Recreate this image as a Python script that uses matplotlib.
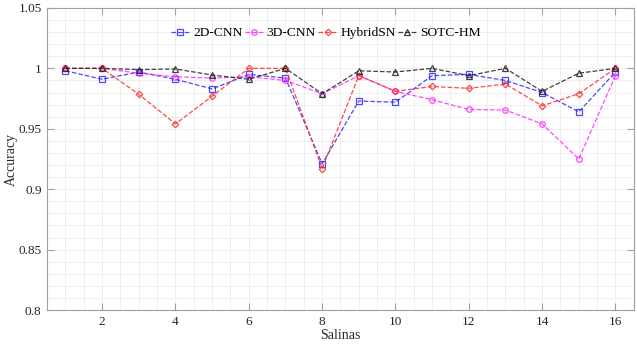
import matplotlib
matplotlib.use("Agg")
import matplotlib.pyplot as plt
import numpy as np

plt.rcParams['font.family'] = ['Liberation Serif', 'DejaVu Serif']

scenes = np.arange(1, 17)
cnn2d = [0.998, 0.991, 0.997, 0.991, 0.983, 0.995, 0.992, 0.921,
         0.973, 0.972, 0.994, 0.995, 0.990, 0.980, 0.964, 0.997]
cnn3d = [1.000, 1.000, 0.996, 0.993, 0.992, 0.993, 0.990, 0.979,
         0.994, 0.981, 0.974, 0.966, 0.9655, 0.954, 0.925, 0.994]
hybrid = [1.000, 1.000, 0.9785, 0.954, 0.977, 1.000, 1.000, 0.917,
          0.994, 0.981, 0.985, 0.9835, 0.987, 0.969, 0.979, 1.000]
sotc = [1.000, 1.000, 0.999, 0.9995, 0.9945, 0.991, 1.000, 0.979,
        0.998, 0.997, 1.000, 0.994, 1.000, 0.981, 0.996, 1.000]

fig = plt.figure(figsize=(6.37, 3.46), dpi=100)
ax = fig.add_axes([0.074, 0.104, 0.921, 0.873])

styles = [
    (cnn2d, '2D-CNN', '#2a2aff', 's'),
    (cnn3d, '3D-CNN', '#ff2aff', 'o'),
    (hybrid, 'HybridSN', '#ff2a2a', 'D'),
    (sotc, 'SOTC-HM', '#202020', '^'),
]
for vals, name, col, mk in styles:
    ms = 3.3 if mk == 'D' else 4
    ax.plot(scenes, vals, linestyle='--', color=col, marker=mk, markersize=ms,
            markerfacecolor='none', markeredgewidth=0.9, linewidth=0.9,
            alpha=0.85, label=name)

ax.set_xlim(0.5, 16.5)
ax.set_ylim(0.8, 1.05)
ax.set_xticks(np.arange(2, 17, 2))
ax.set_yticks([0.8, 0.85, 0.9, 0.95, 1.0, 1.05])
ax.set_yticklabels(['0.8', '0.85', '0.9', '0.95', '1', '1.05'])
ax.set_xticks(np.arange(0.5, 16.6, 0.5), minor=True)
ax.set_yticks(np.arange(0.8, 1.051, 0.01), minor=True)

ax.grid(which='both', color='#ececec', linewidth=0.6)
ax.set_axisbelow(True)
for s in ax.spines.values():
    s.set_color('#a0a0a0')
    s.set_linewidth(0.8)
ax.tick_params(which='major', direction='in', length=5, color='#a0a0a0',
               top=True, right=True, labelsize=9.5, labelcolor='#262626', pad=4)
ax.tick_params(which='minor', length=0)

ax.set_xlabel('Salinas', fontsize=10, color='#262626', labelpad=1)
ax.set_ylabel('Accuracy', fontsize=10, color='#262626', labelpad=0.5)

ax.legend(loc='center', bbox_to_anchor=(0.475, 0.917), ncol=4, frameon=False,
          fontsize=9.7, handlelength=1.4, columnspacing=0.15, handletextpad=0.25)

fig.savefig('out.png', dpi=100)
